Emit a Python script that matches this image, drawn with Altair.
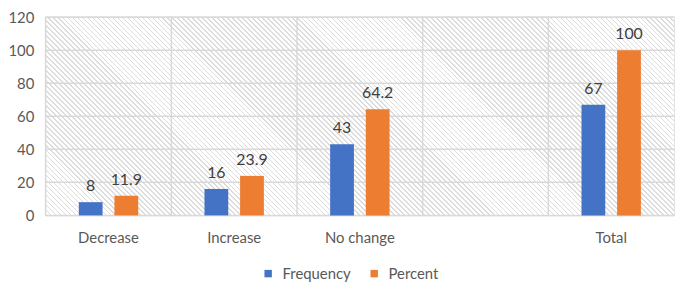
import altair as alt
import pandas as pd

categories = ["Decrease", "Increase", "No change", " ", "Total"]
bar_categories = ["Decrease", "Increase", "No change", "Total"]
frequency = [8, 16, 43, 67]
percent = [11.9, 23.9, 64.2, 100]
series = ["Frequency", "Percent"]
colors = ["#4472C4", "#ED7D31"]
y_ticks = [0, 20, 40, 60, 80, 100, 120]

W, H = 634, 200
FONT = "Lato"
GRID = "#d9d9d9"

rows = []
for c, f, p in zip(bar_categories, frequency, percent):
    rows.append({"cat": c, "series": "Frequency", "value": f})
    rows.append({"cat": c, "series": "Percent", "value": p})
df = pd.DataFrame(rows)

# diagonal hatch as a striped gradient (decoration only)
N = 166
frac = 0.32
stops = []
for k in range(N):
    a = k / N
    b = (k + frac) / N
    e = (k + 1) / N
    stops += [
        {"offset": a, "color": "#dcdcdc"},
        {"offset": b, "color": "#dcdcdc"},
        {"offset": b, "color": "#ffffff"},
        {"offset": e, "color": "#ffffff"},
    ]
r = W / H
d = (1.0, -1.0 / r)
dd = d[0] ** 2 + d[1] ** 2
s = (1 + 1.0 / r) / dd
hatch_grad = {
    "gradient": "linear",
    "x1": 0, "y1": 1,
    "x2": s * d[0], "y2": 1 + s * d[1],
    "stops": stops,
}

x_scale = alt.Scale(domain=categories, paddingInner=0, paddingOuter=0)
y_scale = alt.Scale(domain=[0, 120], nice=False)
x_axis = alt.Axis(labelAngle=0, labelPadding=15, bandPosition=0.5)
y_axis = alt.Axis(values=y_ticks, labelPadding=12, labelOverlap=False)

hatch = alt.Chart(alt.Data(values=[{"a": 1}])).mark_rect(fill=hatch_grad, strokeWidth=0).encode(
    x=alt.value(0), x2=alt.value(W), y=alt.value(0), y2=alt.value(H)
)

hgrid = alt.Chart(pd.DataFrame({"v": y_ticks})).mark_rule(color=GRID, strokeWidth=1.5).encode(
    y=alt.Y("v:Q", scale=y_scale, title=None, axis=y_axis)
)

vgrid = alt.Chart(pd.DataFrame({"cat": categories})).mark_rule(color=GRID, strokeWidth=1.5).encode(
    x=alt.X("cat:N", scale=x_scale, bandPosition=0, title=None, axis=x_axis)
)

base = alt.Chart(df).encode(
    x=alt.X("cat:N", scale=x_scale, title=None, axis=x_axis),
    xOffset=alt.XOffset("series:N", scale=alt.Scale(domain=series, paddingInner=0.333, paddingOuter=0.93)),
    y=alt.Y("value:Q", scale=y_scale, title=None, axis=y_axis),
)

bars = base.mark_bar().encode(
    color=alt.Color("series:N", scale=alt.Scale(domain=series, range=colors),
                    legend=alt.Legend(title=None, orient="none", direction="horizontal",
                                      legendX=217, legendY=251, symbolType="square",
                                      symbolSize=56, symbolStrokeWidth=0,
                                      labelFontSize=15, labelColor="#595959", labelFont=FONT,
                                      columnPadding=16, labelOffset=7))
)

labels = base.mark_text(baseline="alphabetic", dy=-11, fontSize=16, font=FONT, color="#404040").encode(
    text=alt.Text("value:Q", format="~g")
)

chart = alt.layer(hatch, hgrid, vgrid, bars, labels).properties(
    width=W, height=H,
    autosize=alt.AutoSizeParams(type="none"),
    padding={"left": 38, "top": 8, "right": 3, "bottom": 70},
).configure_view(
    stroke=GRID, strokeWidth=1.5
).configure_axis(
    domain=False, ticks=False, grid=False,
    labelFont=FONT, labelFontSize=15, labelColor="#595959"
)

chart.save("out.html", embed_options={"renderer": "svg", "actions": False})
